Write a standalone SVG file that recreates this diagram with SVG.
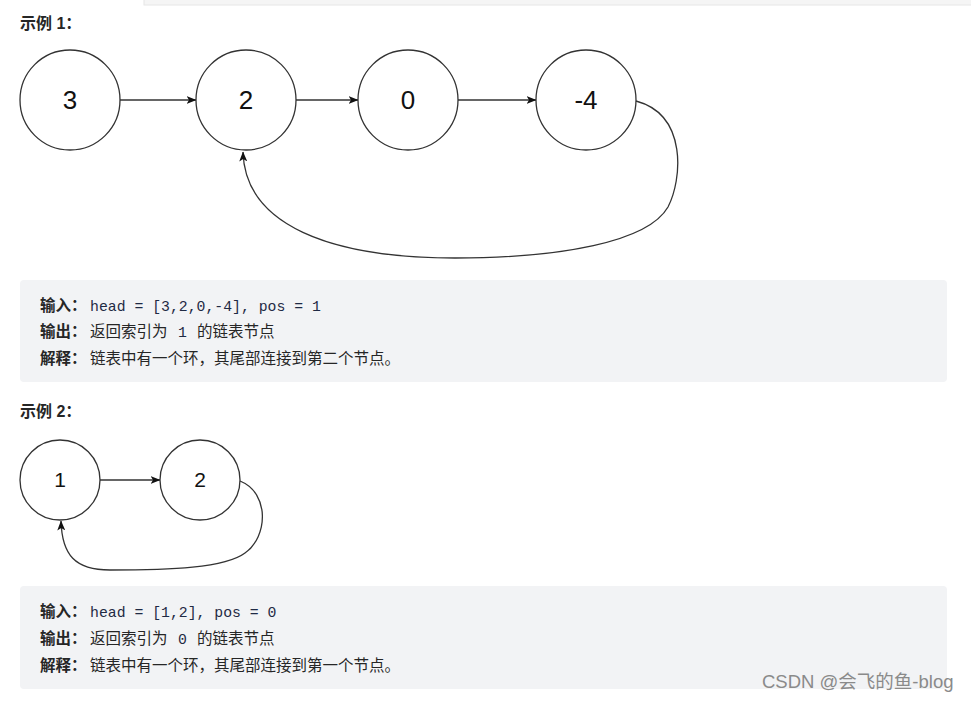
<svg xmlns="http://www.w3.org/2000/svg" width="971" height="701" viewBox="0 0 971 701">
<defs>
<style>
.node{fill:#fff;stroke:#333;stroke-width:1.3}
.edge{fill:none;stroke:#333;stroke-width:1.3}
.lbl{font-family:"Liberation Sans",Arial,sans-serif;fill:#111;text-anchor:middle}
.h{font-family:"Liberation Sans","Noto Sans CJK SC",sans-serif;font-weight:bold;font-size:16px;fill:#262626}
.panel{fill:#f2f3f5}
.t{font-family:"Noto Sans CJK SC",sans-serif;font-size:15.5px;fill:#262626}
.b{font-weight:bold}
.m{font-family:"Liberation Mono","DejaVu Sans Mono",monospace;font-size:14.8px;fill:#1f2a44}
.wm{font-family:"Liberation Sans","Noto Sans CJK SC",sans-serif;font-size:18.5px;fill:#8a8a8a}
</style>
<marker id="arr" viewBox="0 0 10 8" refX="9.5" refY="4" markerWidth="10" markerHeight="8.5" markerUnits="userSpaceOnUse" orient="auto">
<path d="M0,0 L10,4 L0,8 L2.5,4 z" fill="#111"/>
</marker>
</defs>
<rect x="0" y="0" width="971" height="701" fill="#fff"/>
<rect x="144" y="-2" width="830" height="7" fill="#f5f5f5" stroke="#e6e6e6" stroke-width="1"/>

<text class="h" x="20" y="29">示例 1：</text>

<g id="connectors">
<line class="edge" x1="120" y1="100" x2="196" y2="100" marker-end="url(#arr)"/>
<line class="edge" x1="296" y1="100" x2="358" y2="100" marker-end="url(#arr)"/>
<line class="edge" x1="458" y1="100" x2="536" y2="100" marker-end="url(#arr)"/>
<path class="edge" d="M636,101 C688,115 682,180 668,207 C648,242 560,258 455,258 C330,258 245,225 243,152" marker-end="url(#arr)"/>
<line class="edge" x1="100" y1="480" x2="160" y2="480" marker-end="url(#arr)"/>
<path class="edge" d="M240,481 C270,493 268,537 245,553 C225,568 170,570 110,570 C75,570 62,555 61,521" marker-end="url(#arr)"/>
</g>

<g id="n3"><circle class="node" cx="70" cy="100" r="50"/><text class="lbl" x="70" y="109" font-size="26">3</text></g>
<g id="n2"><circle class="node" cx="246" cy="100" r="50"/><text class="lbl" x="246" y="109" font-size="26">2</text></g>
<g id="n0"><circle class="node" cx="408" cy="100" r="50"/><text class="lbl" x="408" y="109" font-size="26">0</text></g>
<g id="nm4"><circle class="node" cx="586" cy="100" r="50"/><text class="lbl" x="586" y="109" font-size="26">-4</text></g>

<g id="panel1">
<rect class="panel" x="20" y="280" width="927" height="102" rx="4"/>
<text class="t" x="40" y="311"><tspan class="b">输入：</tspan><tspan class="m" x="90">head = [3,2,0,-4], pos = 1</tspan></text>
<text class="t" x="40" y="337"><tspan class="b">输出：</tspan><tspan x="90">返回索引为 </tspan><tspan class="m" x="178">1</tspan><tspan x="197">的链表节点</tspan></text>
<text class="t" x="40" y="364"><tspan class="b">解释：</tspan><tspan x="90" textLength="310">链表中有一个环，其尾部连接到第二个节点。</tspan></text>
</g>

<text class="h" x="20" y="417">示例 2：</text>

<g id="e2n1"><circle class="node" cx="60" cy="480" r="40"/><text class="lbl" x="60" y="487" font-size="21">1</text></g>
<g id="e2n2"><circle class="node" cx="200" cy="480" r="40"/><text class="lbl" x="200" y="487" font-size="21">2</text></g>

<g id="panel2">
<rect class="panel" x="20" y="586" width="927" height="103" rx="4"/>
<text class="t" x="40" y="617"><tspan class="b">输入：</tspan><tspan class="m" x="90">head = [1,2], pos = 0</tspan></text>
<text class="t" x="40" y="644"><tspan class="b">输出：</tspan><tspan x="90">返回索引为 </tspan><tspan class="m" x="178">0</tspan><tspan x="197">的链表节点</tspan></text>
<text class="t" x="40" y="671"><tspan class="b">解释：</tspan><tspan x="90" textLength="310">链表中有一个环，其尾部连接到第一个节点。</tspan></text>
</g>

<text class="wm" x="762" y="688">CSDN @会飞的鱼-blog</text>
</svg>
